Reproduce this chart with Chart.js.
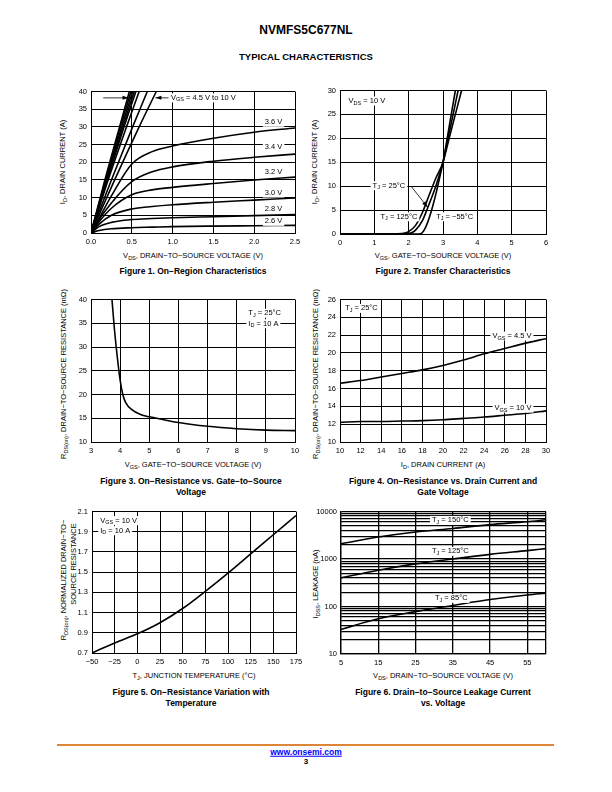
<!DOCTYPE html>
<html lang="en">
  <head>
    <meta charset="UTF-8" />
    <title>NVMFS5C677NL - Typical Characteristics</title>
    <script src="https://cdn.jsdelivr.net/npm/chart.js"></script>
    <style>
      body { margin: 0; width: 612px; height: 792px; position: relative; background: #fff; color: #000;
             font-family: "Liberation Sans", Arial, sans-serif; overflow: hidden; }
      canvas { position: absolute; }
      .t { position: absolute; white-space: nowrap; transform: translate(-50%, -50%); font-size: 7.5px; line-height: 1; }
      .v { transform: translate(-50%, -50%) rotate(-90deg); }
      .cap { font-weight: bold; font-size: 8.5px; }
      .s { font-size: 5.5px; position: relative; top: 1.5px; }
      .rule { position: absolute; left: 57px; top: 744px; width: 497px; height: 2px; background: #dd8638; }
      a { color: #0000ff; }
    </style>
  </head>
  <body>
    <div class="t" style="left:306px;top:30px;font-weight:bold;font-size:12px">NVMFS5C677NL</div>
    <div class="t" style="left:306px;top:57px;font-weight:bold;font-size:9.5px">TYPICAL CHARACTERISTICS</div>

    <!-- axis titles and captions -->
    <div class="t" style="left:193px;top:256px">V<span class="s">DS</span>, DRAIN−TO−SOURCE VOLTAGE (V)</div>
    <div class="t v" style="left:63px;top:162px">I<span class="s">D</span>, DRAIN CURRENT (A)</div>
    <div class="t cap" style="left:193px;top:271px">Figure 1. On−Region Characteristics</div>

    <div class="t" style="left:443px;top:256px">V<span class="s">GS</span>, GATE−TO−SOURCE VOLTAGE (V)</div>
    <div class="t v" style="left:315px;top:162px">I<span class="s">D</span>, DRAIN CURRENT (A)</div>
    <div class="t cap" style="left:443px;top:271px">Figure 2. Transfer Characteristics</div>

    <div class="t" style="left:193px;top:465px">V<span class="s">GS</span>, GATE−TO−SOURCE VOLTAGE (V)</div>
    <div class="t v" style="left:64px;top:374px">R<span class="s">DS(on)</span>, DRAIN−TO−SOURCE RESISTANCE (mΩ)</div>
    <div class="t cap" style="left:191px;top:481px">Figure 3. On−Resistance vs. Gate−to−Source</div>
    <div class="t cap" style="left:191px;top:492px">Voltage</div>

    <div class="t" style="left:443px;top:465px">I<span class="s">D</span>, DRAIN CURRENT (A)</div>
    <div class="t v" style="left:316px;top:374px">R<span class="s">DS(on)</span>, DRAIN−TO−SOURCE RESISTANCE (mΩ)</div>
    <div class="t cap" style="left:443px;top:481px">Figure 4. On−Resistance vs. Drain Current and</div>
    <div class="t cap" style="left:443px;top:492px">Gate Voltage</div>

    <div class="t" style="left:194px;top:676px">T<span class="s">J</span>, JUNCTION TEMPERATURE (°C)</div>
    <div class="t v" style="left:64px;top:580px">R<span class="s">DS(on)</span>, NORMALIZED DRAIN−TO−</div>
    <div class="t v" style="left:74px;top:564px">SOURCE RESISTANCE</div>
    <div class="t cap" style="left:191px;top:692px">Figure 5. On−Resistance Variation with</div>
    <div class="t cap" style="left:191px;top:703px">Temperature</div>

    <div class="t" style="left:443px;top:676px">V<span class="s">DS</span>, DRAIN−TO−SOURCE VOLTAGE (V)</div>
    <div class="t v" style="left:316px;top:584px">I<span class="s">DSS</span>, LEAKAGE (nA)</div>
    <div class="t cap" style="left:443px;top:692px">Figure 6. Drain−to−Source Leakage Current</div>
    <div class="t cap" style="left:443px;top:703px">vs. Voltage</div>

    <div class="rule"></div>
    <div class="t" style="left:306px;top:752px;font-weight:bold;font-size:8.5px"><a href="http://www.onsemi.com/">www.onsemi.com</a></div>
    <div class="t" style="left:306px;top:762px;font-weight:bold;font-size:8px">3</div>

    <script>
      // Figure 1 - on-region, VDS (V) vs ID (A)
      const f1X = [0, 0.1, 0.25, 0.5, 0.75, 1.0, 1.5, 2.0, 2.5];
      const f1I26 = [0, 0.7, 1.2, 1.5, 1.65, 1.8, 1.95, 2.05, 2.15];
      const f1I28 = [0, 1.8, 3.0, 3.8, 4.1, 4.3, 4.6, 4.9, 5.2];
      const f1I30 = [0, 2.5, 5.0, 6.8, 7.5, 8.0, 8.7, 9.3, 9.9];
      const f1I32 = [0, 3.2, 7.0, 10.8, 12.2, 12.9, 14.0, 15.0, 15.8];
      const f1I34 = [0, 3.8, 8.5, 14.5, 17.3, 18.7, 20.3, 21.4, 22.3];
      const f1I36 = [0, 4.2, 10.5, 19.5, 23.0, 24.6, 26.8, 28.5, 29.7];
      // VGS = 4.5 V to 10 V, nearly straight through the origin
      const f1SteepI = [0, 15, 30, 40];
      const f1SteepV = [
        [0, 0.17, 0.35, 0.47],
        [0, 0.18, 0.36, 0.49],
        [0, 0.185, 0.375, 0.51],
        [0, 0.19, 0.39, 0.53],
        [0, 0.2, 0.405, 0.55],
        [0, 0.21, 0.435, 0.59],
        [0, 0.25, 0.51, 0.69],
        [0, 0.29, 0.59, 0.8]
      ];

      // Figure 2 - transfer, VGS (V) vs ID (A)
      const f2X125 = [0, 1.5, 1.8, 2.0, 2.2, 2.4, 2.6, 2.8, 3.0, 3.2, 3.4, 3.54];
      const f2I125 = [0, 0, 0.1, 0.5, 1.8, 4.5, 8.2, 11.8, 15, 20.6, 26.1, 30];
      const f2X25 = [0, 1.9, 2.1, 2.2, 2.4, 2.56, 2.8, 3.0, 3.2, 3.44];
      const f2I25 = [0, 0, 0.3, 0.8, 2.8, 5.6, 10.2, 15, 21.8, 30];
      const f2Xm55 = [0, 2.3, 2.4, 2.5, 2.6, 2.7, 2.8, 2.9, 3.0, 3.2, 3.36];
      const f2Im55 = [0, 0, 0.3, 1.5, 3.4, 5.8, 8.6, 11.7, 15, 23.3, 30];

      // Figure 3 - RDS(on) (mOhm) vs VGS (V)
      const f3Vgs = [3.72, 3.8, 3.9, 4.0, 4.1, 4.2, 4.4, 4.7, 5.0, 5.5, 6.0, 7.0, 8.0, 9.0, 10.0];
      const f3Rds = [40, 34, 28, 23, 19.8, 18.2, 16.8, 15.8, 15.3, 14.7, 14.1, 13.3, 12.8, 12.5, 12.4];

      // Figure 4 - RDS(on) (mOhm) vs ID (A)
      const f4Id = [10, 12, 14, 16, 18, 20, 22, 24, 26, 28, 30];
      const f4Rds45 = [16.6, 16.9, 17.3, 17.7, 18.1, 18.6, 19.2, 19.9, 20.5, 21.1, 21.6];
      const f4Rds10 = [12.2, 12.3, 12.3, 12.35, 12.4, 12.5, 12.65, 12.8, 13.0, 13.2, 13.5];

      // Figure 5 - normalized RDS(on) vs TJ (C)
      const f5Tj = [-50, -25, 0, 25, 50, 75, 100, 125, 150, 175];
      const f5Rn = [0.7, 0.8, 0.89, 1.0, 1.14, 1.31, 1.49, 1.68, 1.87, 2.06];
      const f5YTicks = [0.7, 0.9, 1.1, 1.3, 1.5, 1.7, 1.9, 2.1];

      // Figure 6 - IDSS (nA) vs VDS (V)
      const f6Vds = [5, 15, 25, 35, 45, 55, 60];
      const f6I150 = [2100, 2900, 3700, 4400, 5300, 6100, 6700];
      const f6I125 = [400, 580, 790, 1000, 1250, 1500, 1650];
      const f6I85 = [33, 55, 78, 105, 140, 175, 190];
      const f6XTicks = [5, 15, 25, 35, 45, 55, 60];
      const f6YTicks = [10, 20, 30, 40, 50, 60, 70, 80, 90, 100, 200, 300, 400, 500, 600, 700, 800, 900,
                        1000, 2000, 3000, 4000, 5000, 6000, 7000, 8000, 9000, 10000];
      const f6YLabels = [10, 100, 1000, 10000];

      Chart.defaults.font.family = '"Liberation Sans", Arial, sans-serif';
      Chart.defaults.font.size = 7.5;
      Chart.defaults.color = "#000";

      const pts = (xs, ys) => xs.map((x, i) => ({ x: x, y: ys[i] }));

      // text with _{sub} parts, drawn on a white box
      function drawRich(ctx, x, y, text) {
        const parts = text.split(/(_\{[^}]*\})/).filter(Boolean).map((p) =>
          p.startsWith("_{") ? { t: p.slice(2, -1), sub: true } : { t: p, sub: false });
        const big = '7.5px "Liberation Sans", Arial, sans-serif';
        const small = '5.5px "Liberation Sans", Arial, sans-serif';
        let w = 0;
        parts.forEach((p) => { ctx.font = p.sub ? small : big; p.w = ctx.measureText(p.t).width; w += p.w; });
        ctx.fillStyle = "#fff";
        ctx.fillRect(x - 2, y - 4.5, w + 4, 9);
        ctx.fillStyle = "#000";
        ctx.textAlign = "left";
        ctx.textBaseline = "middle";
        let cx = x;
        parts.forEach((p) => { ctx.font = p.sub ? small : big; ctx.fillText(p.t, cx, p.sub ? y + 2 : y); cx += p.w; });
      }

      function notesPlugin(notes) {
        return {
          id: "notes",
          afterDatasetsDraw(chart) {
            const ctx = chart.ctx, sx = chart.scales.x, sy = chart.scales.y;
            ctx.save();
            (notes.arrows || []).forEach((a) => {
              const x1 = sx.getPixelForValue(a[0]), y1 = sy.getPixelForValue(a[1]);
              const x2 = sx.getPixelForValue(a[2]), y2 = sy.getPixelForValue(a[3]);
              const ang = Math.atan2(y2 - y1, x2 - x1);
              ctx.strokeStyle = "#000";
              ctx.lineWidth = 0.8;
              ctx.beginPath(); ctx.moveTo(x1, y1); ctx.lineTo(x2, y2); ctx.stroke();
              ctx.fillStyle = "#000";
              ctx.beginPath();
              ctx.moveTo(x2, y2);
              ctx.lineTo(x2 - 6 * Math.cos(ang) + 2 * Math.sin(ang), y2 - 6 * Math.sin(ang) - 2 * Math.cos(ang));
              ctx.lineTo(x2 - 6 * Math.cos(ang) - 2 * Math.sin(ang), y2 - 6 * Math.sin(ang) + 2 * Math.cos(ang));
              ctx.closePath(); ctx.fill();
            });
            (notes.labels || []).forEach((n) => drawRich(ctx, sx.getPixelForValue(n[0]), sy.getPixelForValue(n[1]), n[2]));
            ctx.restore();
          }
        };
      }

      // box = plot area on the page: [left, top, right, bottom]
      function makeChart(box, xOpts, yOpts, series, notes, gridW) {
        const pl = 40, pt = 8, pr = 12, pb = 16;
        const w = box[2] - box[0] + pl + pr, h = box[3] - box[1] + pt + pb;
        const c = document.createElement("canvas");
        c.width = w; c.height = h;
        c.style.left = box[0] - pl + "px"; c.style.top = box[1] - pt + "px";
        c.style.width = w + "px"; c.style.height = h + "px";
        document.body.appendChild(c);
        const grid = { color: "#000", lineWidth: gridW || 1, drawTicks: false };
        const border = { color: "#000", width: gridW || 1 };
        new Chart(c, {
          type: "scatter",
          data: {
            datasets: series.map((d) => ({
              data: d, showLine: true, borderColor: "#000", borderWidth: 1.6,
              pointRadius: 0, fill: false, cubicInterpolationMode: "monotone"
            }))
          },
          options: {
            responsive: false, animation: false, events: [],
            layout: { padding: { left: 0, top: pt, right: pr, bottom: 0 } },
            plugins: { legend: { display: false }, tooltip: { enabled: false } },
            scales: {
              x: Object.assign({ type: "linear", grid: grid, border: border,
                ticks: { padding: 4, maxRotation: 0, autoSkip: false },
                afterFit: (s) => { s.height = pb; } }, xOpts),
              y: Object.assign({ type: "linear", grid: grid, border: border,
                ticks: { padding: 4, autoSkip: false },
                afterFit: (s) => { s.width = pl; } }, yOpts)
            }
          },
          plugins: [notesPlugin(notes)]
        });
      }

      const tk = (extra) => Object.assign({ padding: 4, maxRotation: 0, autoSkip: false }, extra);

      // Figure 1
      makeChart([91, 91, 295, 233],
        { min: 0, max: 2.5, ticks: tk({ stepSize: 0.5, callback: (v) => v.toFixed(1) }) },
        { min: 0, max: 40, ticks: tk({ stepSize: 5 }) },
        [f1I26, f1I28, f1I30, f1I32, f1I34, f1I36].map((ys) => pts(f1X, ys))
          .concat(f1SteepV.map((xs) => pts(xs, f1SteepI))),
        {
          arrows: [[0.15, 38.2, 0.46, 38.2], [0.95, 38.2, 0.79, 38.2]],
          labels: [[0.98, 38.2, "V_{GS} = 4.5 V to 10 V"], [2.13, 31.3, "3.6 V"], [2.13, 24.2, "3.4 V"],
                   [2.13, 17.3, "3.2 V"], [2.13, 11.3, "3.0 V"], [2.13, 6.9, "2.8 V"], [2.13, 3.3, "2.6 V"]]
        });

      // Figure 2
      makeChart([340, 90, 546, 234],
        { min: 0, max: 6, ticks: tk({ stepSize: 1 }) },
        { min: 0, max: 30, ticks: tk({ stepSize: 5 }) },
        [pts(f2X125, f2I125), pts(f2X25, f2I25), pts(f2Xm55, f2Im55)],
        {
          arrows: [[2.08, 9.9, 2.55, 5.6]],
          labels: [[0.25, 27.8, "V_{DS} = 10 V"], [0.95, 10.1, "T_{J} = 25°C"],
                   [1.18, 3.6, "T_{J} = 125°C"], [2.8, 3.6, "T_{J} = −55°C"]]
        });

      // Figure 3
      makeChart([91, 299, 295, 442],
        { min: 3, max: 10, ticks: tk({ stepSize: 1 }) },
        { min: 10, max: 40, ticks: tk({ stepSize: 5 }) },
        [pts(f3Vgs, f3Rds)],
        { labels: [[8.4, 37.1, "T_{J} = 25°C"], [8.4, 34.9, "I_{D} = 10 A"]] });

      // Figure 4
      makeChart([340, 299, 546, 442],
        { min: 10, max: 30, ticks: tk({ stepSize: 2 }) },
        { min: 10, max: 26, ticks: tk({ stepSize: 2 }) },
        [pts(f4Id, f4Rds45), pts(f4Id, f4Rds10)],
        { labels: [[10.5, 25.0, "T_{J} = 25°C"], [24.8, 21.9, "V_{GS} = 4.5 V"], [25.0, 13.8, "V_{GS} = 10 V"]] });

      // Figure 5
      makeChart([92, 511, 296, 653],
        { min: -50, max: 175, ticks: tk({ stepSize: 25, callback: (v) => String(v).replace("-", "−") }) },
        { min: 0.7, max: 2.1,
          afterBuildTicks: (s) => { s.ticks = f5YTicks.map((v) => ({ value: v })); },
          ticks: tk({ callback: (v) => v.toFixed(1) }) },
        [pts(f5Tj, f5Rn)],
        { labels: [[-41, 2.01, "V_{GS} = 10 V"], [-41, 1.91, "I_{D} = 10 A"]] });

      // Figure 6
      makeChart([341, 511, 546, 654],
        { min: 5, max: 60,
          afterBuildTicks: (s) => { s.ticks = f6XTicks.map((v) => ({ value: v })); },
          ticks: tk({ callback: (v) => (v === 60 ? "" : String(v)) }) },
        { type: "logarithmic", min: 10, max: 10000,
          afterBuildTicks: (s) => { s.ticks = f6YTicks.map((v) => ({ value: v })); },
          ticks: tk({ callback: (v) => (f6YLabels.includes(v) ? String(v) : "") }) },
        [pts(f6Vds, f6I150), pts(f6Vds, f6I125), pts(f6Vds, f6I85)],
        { labels: [[29.4, 6500, "T_{J} = 150°C"], [29.4, 1450, "T_{J} = 125°C"], [30.2, 148, "T_{J} = 85°C"]] },
        1.3);
    </script>
  </body>
</html>
